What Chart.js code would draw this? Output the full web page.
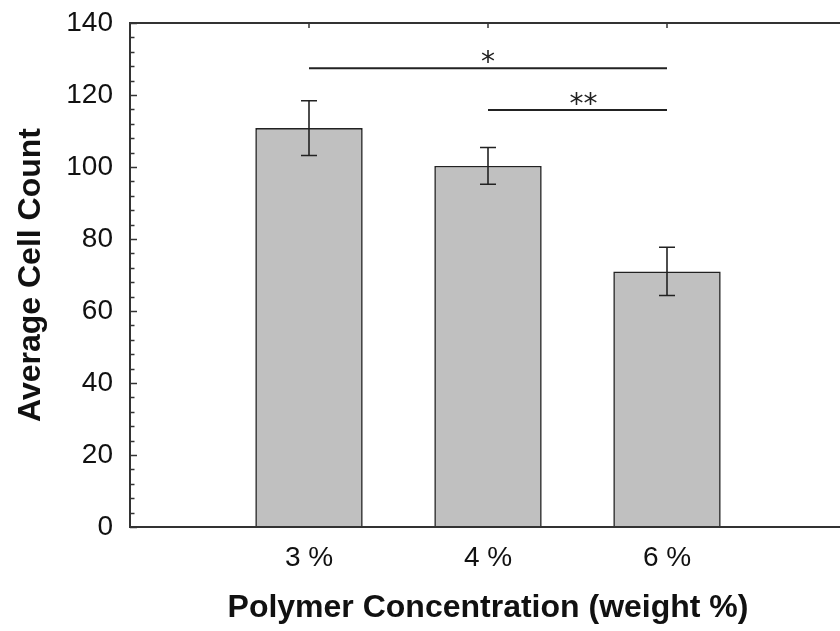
<!DOCTYPE html>
<html>
<head>
<meta charset="utf-8">
<script src="https://cdn.jsdelivr.net/npm/chart.js@4.4.0/dist/chart.umd.min.js"></script>
<style>
  html, body { margin: 0; padding: 0; background: #fff; overflow: hidden; }
  #wrap { width: 860px; height: 631px; }
</style>
</head>
<body>
<div id="wrap"><canvas id="myChart"></canvas></div>
<script>
// data
const labels = ['', '3 %', '4 %', '6 %', '']
const cellCount = [null, 110.8, 100.3, 71.0, null]
const errors = [0, 7.6, 5.1, 6.7, 0]
// significance bars: from index, to index, height, mark
const sigFrom = [1, 2]
const sigTo = [3, 3]
const sigLevel = [127.4, 115.8]
const sigMark = ['*', '**']

const axisColor = '#333'
const fontFam = '"Liberation Sans", Arial, sans-serif'

// error bars, significance lines, box and inward ticks
const extras = {
    id: 'extras',
    afterDatasetsDraw(chart) {
        const ctx = chart.ctx
        const x = chart.scales.x
        const y = chart.scales.y
        const area = chart.chartArea

        ctx.save()
        ctx.strokeStyle = '#222'
        ctx.lineWidth = 1.6
        cellCount.forEach((v, i) => {
            if (v == null) return
            const px = x.getPixelForValue(i)
            const top = y.getPixelForValue(v + errors[i])
            const bot = y.getPixelForValue(v - errors[i])
            ctx.beginPath()
            ctx.moveTo(px, top); ctx.lineTo(px, bot)
            ctx.moveTo(px - 8, top); ctx.lineTo(px + 8, top)
            ctx.moveTo(px - 8, bot); ctx.lineTo(px + 8, bot)
            ctx.stroke()
        })

        // significance
        ctx.lineWidth = 2
        ctx.fillStyle = '#222'
        ctx.font = '28px "DejaVu Sans", sans-serif'
        ctx.textAlign = 'center'
        ctx.textBaseline = 'alphabetic'
        sigLevel.forEach((lv, k) => {
            const x1 = x.getPixelForValue(sigFrom[k])
            const x2 = x.getPixelForValue(sigTo[k])
            const py = y.getPixelForValue(lv)
            ctx.beginPath()
            ctx.moveTo(x1, py); ctx.lineTo(x2, py)
            ctx.stroke()
            ctx.fillText(sigMark[k], (x1 + x2) / 2 + (k ? 6 : 0), py + 3)
        })

        // frame
        ctx.strokeStyle = axisColor
        ctx.lineWidth = 2
        ctx.beginPath()
        ctx.rect(area.left, area.top, area.right - area.left, area.bottom - area.top)
        ctx.stroke()

        // inward ticks on the y axis
        ctx.lineWidth = 1.5
        for (let v = 0; v <= 140; v += 4) {
            const py = Math.round(y.getPixelForValue(v)) + 0.5
            const len = v % 20 === 0 ? 7 : 4.5
            ctx.beginPath()
            ctx.moveTo(area.left, py); ctx.lineTo(area.left + len, py)
            ctx.stroke()
        }
        // small ticks on top at category positions
        for (let i = 1; i <= 3; i++) {
            const px = x.getPixelForValue(i)
            ctx.beginPath()
            ctx.moveTo(px, area.top); ctx.lineTo(px, area.top + 5)
            ctx.stroke()
        }
        ctx.restore()
    }
}

const data = {
    labels: labels,
    datasets: [
        {
            label: 'Average Cell Count',
            data: cellCount,
            backgroundColor: '#c0c0c0',
            borderColor: '#222',
            borderWidth: 1.6,
            categoryPercentage: 0.8,
            barPercentage: 0.75
        }
    ]
}

const config = {
    type: 'bar',
    data,
    options: {
        responsive: true,
        maintainAspectRatio: false,
        animation: false,
        layout: { padding: { top: 23, left: 0, right: 10, bottom: 0 } },
        plugins: {
            legend: { display: false },
            tooltip: { enabled: false }
        },
        scales: {
            x: {
                offset: false,
                grid: { display: false, drawTicks: false },
                border: { display: false },
                ticks: {
                    color: '#111',
                    padding: 14,
                    maxRotation: 0,
                    font: { family: fontFam, size: 28 }
                },
                title: {
                    display: true,
                    text: 'Polymer Concentration (weight %)',
                    color: '#111',
                    padding: { top: 8 },
                    font: { family: fontFam, size: 32, weight: 'bold' }
                },
                afterFit: (scale) => { scale.height = 104 }
            },
            y: {
                min: 0,
                max: 140,
                grid: { display: false, drawTicks: false },
                border: { display: false },
                ticks: {
                    stepSize: 20,
                    color: '#111',
                    padding: 17,
                    font: { family: fontFam, size: 28 }
                },
                title: {
                    display: true,
                    text: 'Average Cell Count',
                    color: '#111',
                    padding: { top: 12, bottom: 6 },
                    font: { family: fontFam, size: 32, weight: 'bold' }
                },
                afterFit: (scale) => {
                    scale.width = 130
                    scale.paddingTop = 0
                    scale.paddingBottom = 0
                }
            }
        }
    },
    plugins: [extras]
}

new Chart(document.getElementById('myChart'), config)
</script>
</body>
</html>
